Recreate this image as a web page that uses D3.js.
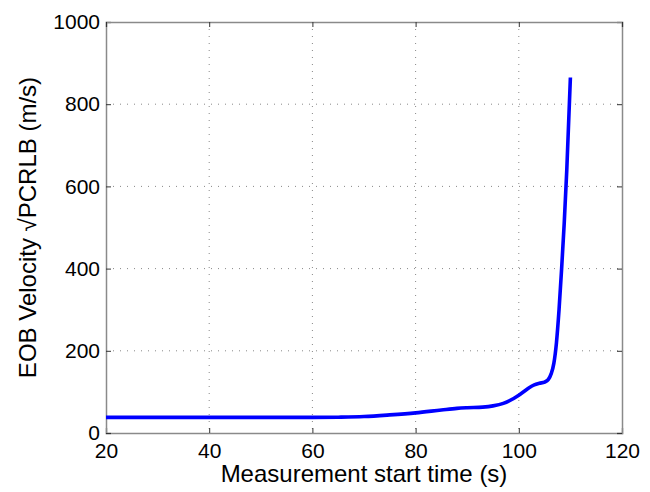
<!DOCTYPE html>
<html>
<head>
<meta charset="utf-8">
<script src="https://cdn.jsdelivr.net/npm/d3@7"></script>
<style>
  body { margin: 0; background: #fff; }
  text { font-family: "Liberation Sans", Arial, sans-serif; fill: #000; }
</style>
</head>
<body>
<svg id="chart" width="650" height="492"></svg>
<script>
// measurement start time (s) and velocity sqrt(PCRLB) (m/s)
const startTime = [20, 30, 40, 50, 60, 65, 70, 75, 80, 85, 88, 90, 93, 95, 97, 99, 100, 101, 102, 103, 104, 105, 105.7, 106.3, 106.8, 107.3, 107.8, 108.3, 108.8, 109.3, 110];
const velocity  = [38, 38, 38, 38, 38, 38.5, 40, 44, 49, 56, 60, 61.5, 63, 66, 72, 84, 92, 101, 110, 117, 121, 124, 130, 145, 170, 220, 300, 400, 510, 640, 865];
const xTicks = [20, 40, 60, 80, 100, 120];
const yTicks = [0, 200, 400, 600, 800, 1000];

const margin = { top: 22, right: 28, bottom: 59, left: 106 };
const width = 650 - margin.left - margin.right;
const height = 492 - margin.top - margin.bottom;

const svg = d3.select('#chart');
const g = svg.append('g').attr('transform', `translate(${margin.left},${margin.top})`);

const x = d3.scaleLinear().domain([20, 120]).range([0, width]);
const y = d3.scaleLinear().domain([0, 1000]).range([height, 0]);

// dotted grid
g.append('g').selectAll('line')
  .data(xTicks.slice(1, -1))
  .join('line')
  .attr('x1', d => x(d)).attr('x2', d => x(d))
  .attr('y1', 0).attr('y2', height)
  .attr('stroke', '#888').attr('stroke-width', 1)
  .attr('stroke-dasharray', '1,6');

g.append('g').selectAll('line')
  .data(yTicks.slice(1, -1))
  .join('line')
  .attr('y1', d => y(d)).attr('y2', d => y(d))
  .attr('x1', 0).attr('x2', width)
  .attr('stroke', '#888').attr('stroke-width', 1)
  .attr('stroke-dasharray', '1,6');

// axes with inward ticks (matlab style)
const fmt = d3.format('d');
g.append('g')
  .attr('transform', `translate(0,${height})`)
  .call(d3.axisBottom(x).tickValues(xTicks).tickSize(-5).tickPadding(10).tickFormat(fmt));
g.append('g')
  .call(d3.axisLeft(y).tickValues(yTicks).tickSize(-5).tickPadding(6).tickFormat(fmt));
g.append('g')
  .attr('transform', `translate(${width},0)`)
  .call(d3.axisRight(y).tickValues(yTicks).tickSize(-5).tickFormat(''));
g.append('g')
  .call(d3.axisTop(x).tickValues(xTicks).tickSize(-5).tickFormat(''));

g.selectAll('.domain').attr('stroke', '#8a8a8a').attr('stroke-width', 1.5);
g.selectAll('.tick line').attr('stroke', '#333');
g.selectAll('.tick text').style('font-size', '21px').attr('fill', '#000');

// the curve
const line = d3.line()
  .x((d, i) => x(startTime[i]))
  .y(d => y(d))
  .curve(d3.curveMonotoneX);

g.append('path')
  .datum(velocity)
  .attr('d', line)
  .attr('fill', 'none')
  .attr('stroke', '#0000ff')
  .attr('stroke-width', 3.6)
  .attr('stroke-linejoin', 'round');

// labels
svg.append('text')
  .attr('x', margin.left + width / 2)
  .attr('y', 482)
  .attr('text-anchor', 'middle')
  .style('font-size', '24px')
  .text('Measurement start time (s)');

svg.append('text')
  .attr('transform', `translate(36,${margin.top + height / 2}) rotate(-90)`)
  .attr('text-anchor', 'middle')
  .style('font-size', '24px')
  .text('EOB Velocity √PCRLB (m/s)');
</script>
</body>
</html>
